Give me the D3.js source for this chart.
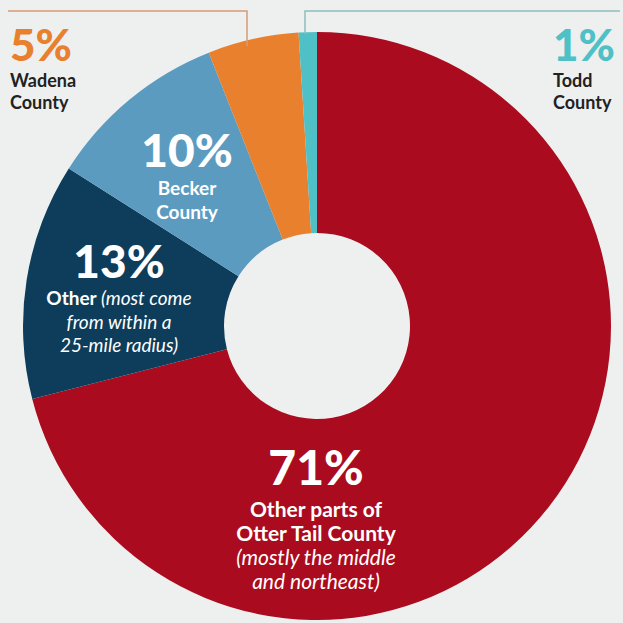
<!DOCTYPE html>
<html>
<head>
<meta charset="utf-8">
<script src="https://cdn.jsdelivr.net/npm/d3@7"></script>
<style>
  html, body { margin: 0; padding: 0; background: #eef0f0; }
  svg { display: block; font-family: Lato, "Open Sans", sans-serif; }
</style>
</head>
<body>
<div id="chart"></div>
<script>
// slice data, clockwise from 12 o'clock
var categories = ["Other parts of Otter Tail County", "Other", "Becker County", "Wadena County", "Todd County"];
var values = [71, 13, 10, 5, 1];
var colors = ["#ab0b1e", "#0d3d5a", "#5c9bc0", "#e8802e", "#4fc1c6"];

var width = 623, height = 623;
var cx = 317, cy = 326;
var outerR = 294, innerR = 93;

var svg = d3.select("#chart")
  .append("svg")
  .attr("width", width)
  .attr("height", height);

svg.append("rect")
  .attr("width", width)
  .attr("height", height)
  .attr("fill", "#eef0f0");

var pie = d3.pie().sort(null).value(function(d){ return d; });
var arc = d3.arc().innerRadius(innerR).outerRadius(outerR);

var g = svg.append("g").attr("transform", "translate(" + cx + "," + cy + ")");

g.selectAll("path")
  .data(pie(values))
  .enter()
  .append("path")
  .attr("d", arc)
  .attr("fill", function(d, i){ return colors[i]; });

// callout brackets for the two small slices
svg.append("path")
  .attr("d", "M8,11H247V46")
  .attr("fill", "none")
  .attr("stroke", "#d79a72")
  .attr("stroke-width", 1.5);
svg.append("path")
  .attr("d", "M305,34V11H620")
  .attr("fill", "none")
  .attr("stroke", "#8fbcbc")
  .attr("stroke-width", 1.5);

// label layout
var labels = [
  { x: 316, y: 485, anchor: "middle", size: 48, pc: "#ffffff", tc: "#ffffff", pct: "71%",
    lines: [[["Other parts of", "b"]], [["Otter Tail County", "b"]], [["(mostly the middle", "i"]], [["and northeast)", "i"]]], step: 24, first: 32, fs: 21 },
  { x: 119, y: 278, anchor: "middle", size: 46, pc: "#ffffff", tc: "#ffffff", pct: "13%",
    lines: [[["Other ", "b"], ["(most come", "i"]], [["from within a", "i"]], [["25-mile radius)", "i"]]], step: 23.5, first: 27, fs: 19 },
  { x: 187, y: 167, anchor: "middle", size: 46, pc: "#ffffff", tc: "#ffffff", pct: "10%",
    lines: [[["Becker", "b"]], [["County", "b"]]], step: 24, first: 28, fs: 19 },
  { x: 10, y: 61, anchor: "start", size: 44, pc: "#e8802e", tc: "#222222", pct: "5%",
    lines: [[["Wadena", "b"]], [["County", "b"]]], step: 22, first: 26, fs: 18 },
  { x: 553, y: 61, anchor: "start", size: 44, pc: "#4fc1c6", tc: "#222222", pct: "1%",
    lines: [[["Todd", "b"]], [["County", "b"]]], step: 22, first: 26, fs: 18 }
];

labels.forEach(function(l){
  svg.append("text")
    .attr("x", l.x)
    .attr("y", l.y)
    .attr("text-anchor", l.anchor)
    .attr("font-size", l.size)
    .attr("font-weight", 900)
    .attr("fill", l.pc)
    .text(l.pct);

  l.lines.forEach(function(parts, j){
    var t = svg.append("text")
      .attr("x", l.x)
      .attr("y", l.y + l.first + j * l.step)
      .attr("text-anchor", l.anchor)
      .attr("font-size", l.fs)
      .attr("fill", l.tc);
    parts.forEach(function(p){
      t.append("tspan")
        .attr("font-weight", p[1] === "b" ? 700 : 400)
        .attr("font-style", p[1] === "i" ? "italic" : "normal")
        .text(p[0]);
    });
  });
});
</script>
</body>
</html>
